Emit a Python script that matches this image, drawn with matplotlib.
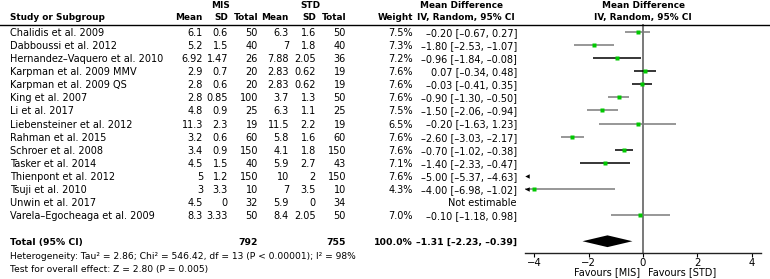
import numpy as np
import matplotlib
matplotlib.use('Agg')
import matplotlib.pyplot as plt
import matplotlib.transforms as mtransforms
from matplotlib.lines import Line2D

W, H = 770, 279
FS = 7.0
FS_BOLD = 6.4
FS_NOTE = 6.6
GREEN = '#00c800'
GREY = '#7a7a7a'

# ── data ──
studies = ['Chalidis et al. 2009', 'Dabboussi et al. 2012',
           'Hernandez–Vaquero et al. 2010', 'Karpman et al. 2009 MMV',
           'Karpman et al. 2009 QS', 'King et al. 2007', 'Li et al. 2017',
           'Liebensteiner et al. 2012', 'Rahman et al. 2015',
           'Schroer et al. 2008', 'Tasker et al. 2014',
           'Thienpont et al. 2012', 'Tsuji et al. 2010',
           'Unwin et al. 2017', 'Varela–Egocheaga et al. 2009']
mis_mean = [6.1, 5.2, 6.92, 2.9, 2.8, 2.8, 4.8, 11.3, 3.2, 3.4, 4.5, 5, 3, 4.5, 8.3]
mis_sd = [0.6, 1.5, 1.47, 0.7, 0.6, 0.85, 0.9, 2.3, 0.6, 0.9, 1.5, 1.2, 3.3, 0, 3.33]
mis_n = [50, 40, 26, 20, 20, 100, 25, 19, 60, 150, 40, 150, 10, 32, 50]
std_mean = [6.3, 7, 7.88, 2.83, 2.83, 3.7, 6.3, 11.5, 5.8, 4.1, 5.9, 10, 7, 5.9, 8.4]
std_sd = [1.6, 1.8, 2.05, 0.62, 0.62, 1.3, 1.1, 2.2, 1.6, 1.8, 2.7, 2, 3.5, 0, 2.05]
std_n = [50, 40, 36, 19, 19, 50, 25, 19, 60, 150, 43, 150, 10, 34, 50]
weight = [7.5, 7.3, 7.2, 7.6, 7.6, 7.6, 7.5, 6.5, 7.6, 7.6, 7.1, 7.6, 4.3, None, 7.0]
md = [-0.20, -1.80, -0.96, 0.07, -0.03, -0.90, -1.50, -0.20, -2.60, -0.70,
      -1.40, -5.00, -4.00, None, -0.10]
ci_lo = [-0.67, -2.53, -1.84, -0.34, -0.41, -1.30, -2.06, -1.63, -3.03, -1.02,
         -2.33, -5.37, -6.98, None, -1.18]
ci_hi = [0.27, -1.07, -0.08, 0.48, 0.35, -0.50, -0.94, 1.23, -2.17, -0.38,
         -0.47, -4.63, -1.02, None, 0.98]
total_mis, total_std = 792, 755
pooled_md, pooled_lo, pooled_hi = -1.31, -2.23, -0.39
xticks = [-4, -2, 0, 2, 4]
x_range = (-4.35, 4.35)
line_cols = [GREY, GREY, 'black', 'black', 'black', GREY, GREY, GREY, GREY,
             'black', 'black', 'black', GREY, GREY, GREY]


def num(v):
    return f'{v:g}'


def signed(v):
    return f'{v:.2f}'.replace('-', '–')


fig = plt.figure(figsize=(W / 100, H / 100), dpi=100)
ax = fig.add_axes([525 / W, (H - 253) / H, 236 / W, 229 / H])
n = len(studies)
total_row = n + 1
ax.set_xlim(*x_range)
ax.set_ylim(16.9, -0.61)

# forest marks
for i in range(n):
    if md[i] is None:
        continue
    ax.plot([ci_lo[i], ci_hi[i]], [i, i], color=line_cols[i], lw=1.1,
            solid_capstyle='butt', zorder=2)
    ax.plot(md[i], i, 's', color=GREEN, ms=2.6, mec='none', zorder=3,
            clip_on=True)
    if ci_lo[i] < x_range[0]:
        ax.plot(x_range[0] + 0.07, i, '<', color='black', ms=3.2,
                mec='none', clip_on=False, zorder=4)

ax.fill([pooled_lo, pooled_md, pooled_hi, pooled_md],
        [total_row, total_row - 0.45, total_row, total_row + 0.45],
        color='black', lw=0)
ax.axvline(0, color='#555555', lw=1.1, zorder=1)

for s in ['top', 'right', 'left']:
    ax.spines[s].set_visible(False)
ax.spines['bottom'].set_linewidth(1.0)
ax.spines['bottom'].set_color('#222222')
ax.set_yticks([])
ax.set_xticks(xticks)
ax.tick_params(axis='x', length=3, width=0.8, pad=0.5, labelsize=FS + 0.3)

# text columns
tr = mtransforms.blended_transform_factory(fig.transFigure, ax.transData)


def put(x, row, s, ha='right', bold=False, size=None):
    if size is None:
        size = FS_BOLD if bold else FS
    fig.text(x / W, row, s, transform=tr, ha=ha, va='center_baseline',
             fontsize=size, fontweight='bold' if bold else 'normal')


h1, h2 = -2.07, -1.15
put(220, h1, 'MIS', ha='center', bold=True)
put(310, h1, 'STD', ha='center', bold=True)
put(462, h1, 'Mean Difference', ha='center', bold=True)
put(643, h1, 'Mean Difference', ha='center', bold=True)
put(10, h2, 'Study or Subgroup', ha='left', bold=True)
for x, s in [(203, 'Mean'), (228, 'SD'), (258, 'Total'), (289, 'Mean'),
             (316, 'SD'), (346, 'Total'), (413, 'Weight')]:
    put(x, h2, s, bold=True)
put(466, h2, 'IV, Random, 95% CI', ha='center', bold=True)
put(643, h2, 'IV, Random, 95% CI', ha='center', bold=True)
fig.add_artist(Line2D([0, 1], [(H - 24.5) / H] * 2, color='black', lw=1.0,
                      transform=fig.transFigure))

for i in range(n):
    put(10, i, studies[i], ha='left')
    put(203, i, num(mis_mean[i]))
    put(228, i, num(mis_sd[i]))
    put(258, i, str(mis_n[i]))
    put(289, i, num(std_mean[i]))
    put(316, i, num(std_sd[i]))
    put(346, i, str(std_n[i]))
    if md[i] is None:
        put(517, i, 'Not estimable')
    else:
        put(413, i, f'{weight[i]:.1f}%')
        put(517, i, f'{signed(md[i])} [{signed(ci_lo[i])}, {signed(ci_hi[i])}]')

put(10, total_row, 'Total (95% CI)', ha='left', bold=True, size=6.7)
put(258, total_row, str(total_mis), bold=True, size=6.7)
put(346, total_row, str(total_std), bold=True, size=6.7)
put(413, total_row, '100.0%', bold=True, size=6.7)
put(517, total_row, f'{signed(pooled_md)} [{signed(pooled_lo)}, {signed(pooled_hi)}]',
    bold=True, size=6.7)
put(10, total_row + 1.06,
    'Heterogeneity: Tau² = 2.86; Chi² = 546.42, df = 13 (P < 0.00001); I² = 98%',
    ha='left', size=FS_NOTE)
put(10, total_row + 2.06, 'Test for overall effect: Z = 2.80 (P = 0.005)',
    ha='left', size=FS_NOTE)

fig.text(640 / W, (H - 272.5) / H, 'Favours [MIS]', ha='right', va='center',
         fontsize=FS)
fig.text(648 / W, (H - 272.5) / H, 'Favours [STD]', ha='left', va='center',
         fontsize=FS)

fig.savefig('out.png', dpi=100)
